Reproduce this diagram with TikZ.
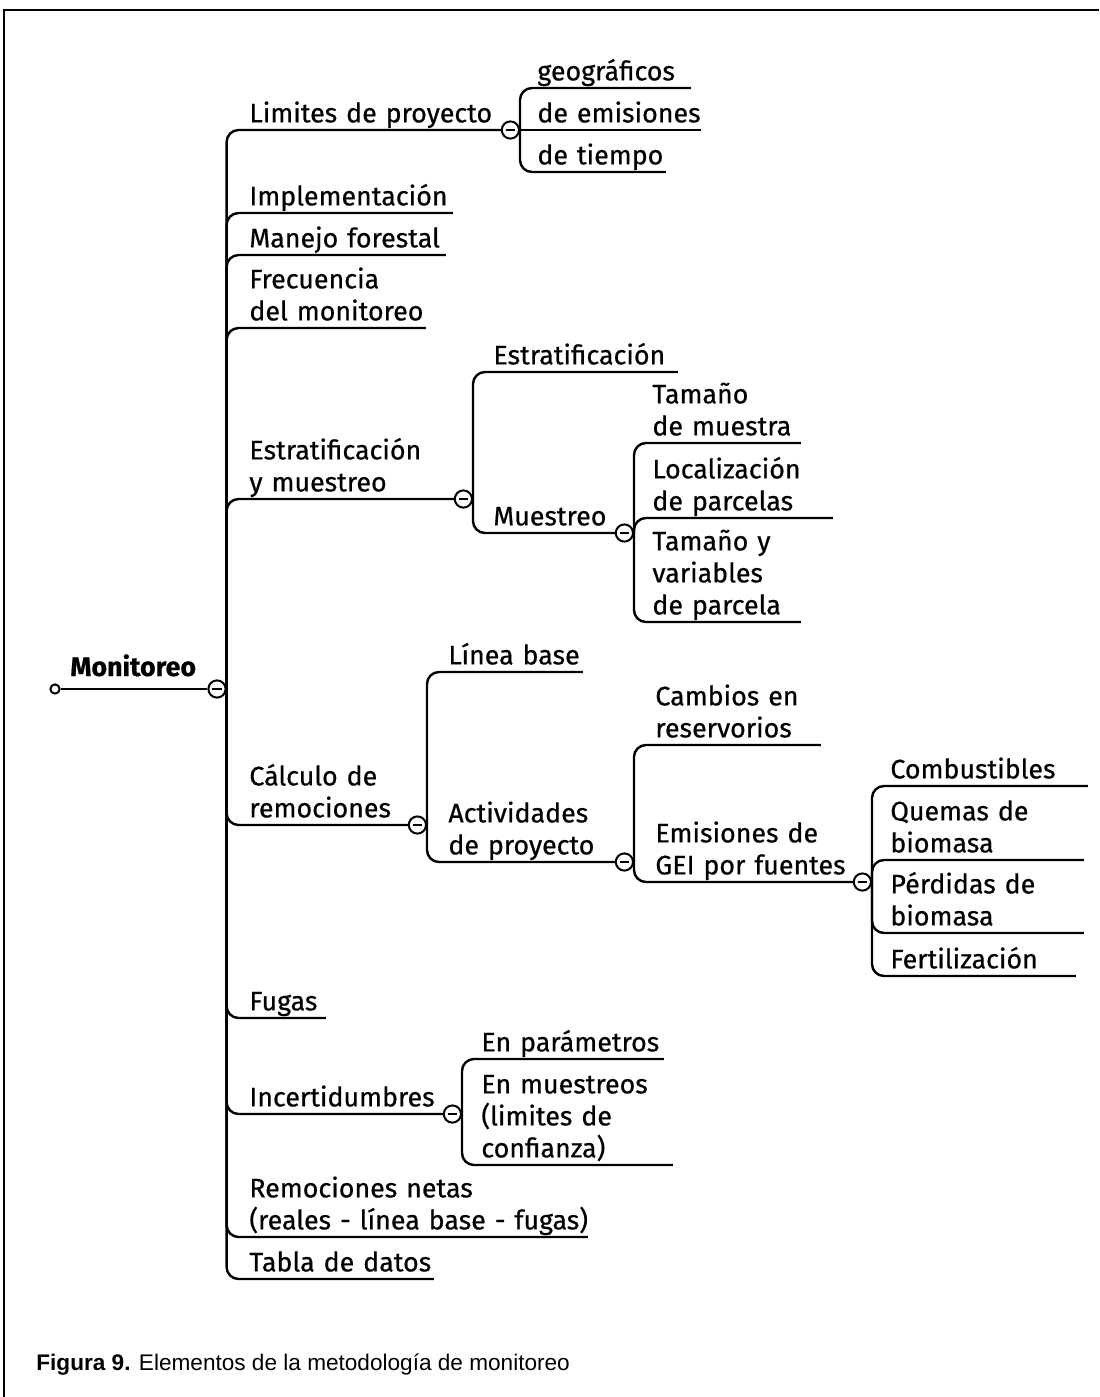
\documentclass[tikz,border=0pt]{standalone}
\usepackage{fontspec}
\setmainfont{Fira Sans}[FakeBold=0.6]
\newfontfamily\captionfamily{Liberation Sans}
% stacked lines of one label, baseline on the last line
\newcommand\rows[1]{\vbox{\baselineskip=16pt\lineskiplimit=-20pt\halign{##\hfil\cr#1\crcr}}}
\begin{document}
\begin{tikzpicture}[x=0.5pt, y=-0.5pt,
  every node/.style={font=\fontsize{13.4}{16}\selectfont},
  item/.style={anchor=south west, align=left, text width=#1, inner xsep=0pt,
    inner ysep=3.6pt, text depth=0pt},
  branch/.style={line width=1.2pt, rounded corners=6pt},
  collapse/.style={circle, draw, line width=1pt, fill=white, minimum size=8.6pt,
    inner sep=0pt, path picture={\draw[line width=0.9pt]
      ([xshift=-2.3pt]path picture bounding box.center) --
      ([xshift=2.3pt]path picture bounding box.center);}},
  rootdot/.style={circle, draw, line width=1pt, fill=white, minimum size=4.6pt,
    inner sep=0pt}]
\useasboundingbox (0,0) rectangle (1099,1397);

% frame
\draw[line width=1.3pt] (4,1397) -- (4,10) -- (1099,10);

% root
\node[rootdot] (rdot) at (55,689) {};
\node[collapse] (croot) at (217,689) {};
\node[anchor=base west, inner sep=0pt, font=\fontsize{13.4}{16}\selectfont\bfseries] (root) at (70,676) {Monitoreo};
\draw[branch] (rdot) -- (croot);

% first level
\node[item=125.5pt] (lim) at (249,130) {\rows{Limites de proyecto}};
\node[item=101.5pt] (imp) at (249,213) {\rows{Implementación}};
\node[item=98pt] (man) at (249,255) {\rows{Manejo forestal}};
\node[item=88pt] (fre) at (249,328) {\rows{Frecuencia\cr del monitoreo}};
\node[item=102pt] (est) at (249,499) {\rows{Estratificación\cr y muestreo}};
\node[item=79pt] (cal) at (249,825) {\rows{Cálculo de\cr remociones}};
\node[item=38pt] (fug) at (249,1018) {\rows{Fugas}};
\node[item=96.5pt] (inc) at (249,1114) {\rows{Incertidumbres}};
\node[item=169pt] (rem) at (249,1237) {\rows{Remociones netas\cr (reales - línea base - fugas)}};
\node[item=92pt] (tab) at (249,1279) {\rows{Tabla de datos}};
\foreach \k in {lim,imp,man,fre,est,cal,fug,inc,rem,tab}
  \draw[branch] (croot.east) |- (\k.south east);

% limites de proyecto
\node[collapse, anchor=west] (clim) at (lim.south east) {};
\node[item=76.5pt] (geo) at (537,88) {\rows{geográficos}};
\node[item=81.5pt] (emi) at (537,130) {\rows{de emisiones}};
\node[item=64pt] (tie) at (537,172) {\rows{de tiempo}};
\draw[branch] (clim.east) |- (geo.south east);
\draw[branch] (clim.east) -- (emi.south east);
\draw[branch] (clim.east) |- (tie.south east);

% estratificacion y muestreo
\node[collapse, anchor=west] (cest) at (est.south east) {};
\node[item=92pt] (estr) at (493,372) {\rows{Estratificación}};
\node[item=60.5pt] (mue) at (493,533) {\rows{Muestreo}};
\draw[branch] (cest.east) |- (estr.south east);
\draw[branch] (cest.east) |- (mue.south east);
\node[collapse, anchor=west] (cmue) at (mue.south east) {};
\node[item=74pt] (tam) at (652,443) {\rows{Tamaño\cr de muestra}};
\node[item=90pt] (loc) at (652,518) {\rows{Localización\cr de parcelas}};
\node[item=74pt] (tyv) at (652,622) {\rows{Tamaño y\cr variables\cr de parcela}};
\foreach \k in {tam,loc,tyv}
  \draw[branch] (cmue.east) |- (\k.south east);

% calculo de remociones
\node[collapse, anchor=west] (ccal) at (cal.south east) {};
\node[item=67pt] (lin) at (448,672) {\rows{Línea base}};
\node[item=83pt] (act) at (448,862) {\rows{Actividades\cr de proyecto}};
\draw[branch] (ccal.east) |- (lin.south east);
\draw[branch] (ccal.east) |- (act.south east);
\node[collapse, anchor=west] (cact) at (act.south east) {};
\node[item=82.5pt] (cam) at (655,745) {\rows{Cambios en\cr reservorios}};
\node[item=98.5pt] (gei) at (655,882) {\rows{Emisiones de\cr GEI por fuentes}};
\draw[branch] (cact.east) |- (cam.south east);
\draw[branch] (cact.east) |- (gei.south east);
\node[collapse, anchor=west] (cgei) at (gei.south east) {};
\node[item=98.5pt] (com) at (890,786) {\rows{Combustibles}};
\node[item=96.5pt] (que) at (890,860) {\rows{Quemas de\cr biomasa}};
\node[item=96.5pt] (per) at (890,933) {\rows{Pérdidas de\cr biomasa}};
\node[item=92.5pt] (fer) at (890,976) {\rows{Fertilización}};
\foreach \k in {com,que,per,fer}
  \draw[branch] (cgei.east) |- (\k.south east);

% incertidumbres
\node[collapse, anchor=west] (cinc) at (inc.south east) {};
\node[item=91pt] (par) at (481,1059) {\rows{En parámetros}};
\node[item=95.5pt] (mst) at (481,1165) {\rows{En muestreos\cr (limites de\cr confianza)}};
\draw[branch] (cinc.east) |- (par.south east);
\draw[branch] (cinc.east) |- (mst.south east);

% caption
\node[anchor=base west, inner sep=0pt, font=\captionfamily\fontsize{11.3}{13}\selectfont] (caption) at (36,1370)
  {\textbf{Figura 9.} Elementos de la metodología de monitoreo};
\end{tikzpicture}
\end{document}
